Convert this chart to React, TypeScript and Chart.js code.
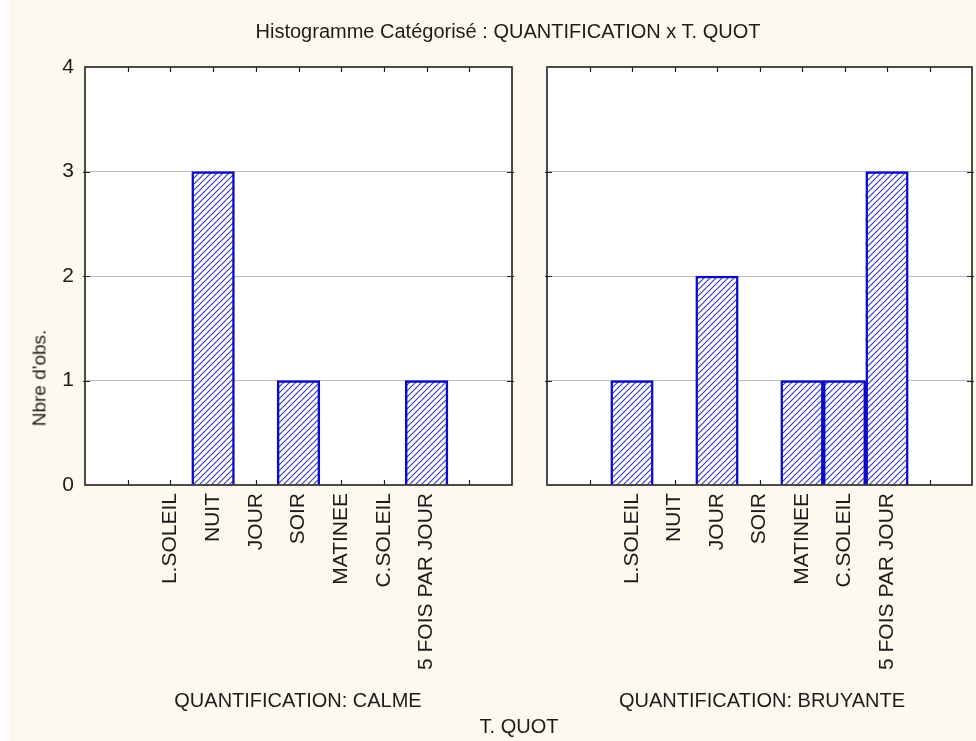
import React, { useEffect, useRef } from "react";
import { Chart, registerables } from "chart.js";

Chart.register(...registerables);

// ---- data ----
const categories = ["L.SOLEIL", "NUIT", "JOUR", "SOIR", "MATINEE", "C.SOLEIL", "5 FOIS PAR JOUR"];
const calmeValues = [0, 3, 0, 1, 0, 0, 1];
const bruyanteValues = [1, 0, 2, 0, 1, 1, 3];
const yTickValues = [0, 1, 2, 3, 4];
const mainTitle = "Histogramme Catégorisé : QUANTIFICATION x T. QUOT";
const yTitle = "Nbre d'obs.";
const xTitle = "T. QUOT";
const panelTitles = ["QUANTIFICATION: CALME", "QUANTIFICATION: BRUYANTE"];

const EMPTY_SLOTS = 2;
const FONT = '"Liberation Sans", Arial, Helvetica, sans-serif';
const TEXT = "#1c1c1c";

function paddedLabels(): string[] {
  const pad = Array(EMPTY_SLOTS).fill("");
  return [...pad, ...categories, ...pad];
}
function paddedValues(vals: number[]): (number | null)[] {
  const pad = Array(EMPTY_SLOTS).fill(null);
  return [...pad, ...vals.map((v) => (v === 0 ? null : v)), ...pad];
}

function makeHatch(): CanvasPattern | string {
  const s = 6;
  const c = document.createElement("canvas");
  c.width = s;
  c.height = s;
  const g = c.getContext("2d");
  if (!g) return "#ccf";
  g.fillStyle = "#ffffff";
  g.fillRect(0, 0, s, s);
  g.strokeStyle = "#3a3ac6";
  g.lineWidth = 1.2;
  g.beginPath();
  g.moveTo(-1, s + 1);
  g.lineTo(s + 1, -1);
  g.moveTo(-1, 1);
  g.lineTo(1, -1);
  g.moveTo(s - 1, s + 1);
  g.lineTo(s + 1, s - 1);
  g.stroke();
  return g.createPattern(c, "repeat") || "#ccf";
}

const framePlugin = {
  id: "panelFrame",
  beforeDraw(chart: any) {
    const { ctx, chartArea: a } = chart;
    ctx.save();
    ctx.fillStyle = "#ffffff";
    ctx.fillRect(a.left, a.top, a.right - a.left, a.bottom - a.top);
    ctx.restore();
  },
  beforeDatasetsDraw(chart: any) {
    const { ctx, chartArea: a, scales } = chart;
    const x = scales.x;
    const y = scales.y;
    ctx.save();
    ctx.strokeStyle = "#222222";
    ctx.lineWidth = 1.2;
    ctx.beginPath();
    for (let i = 1; i < x.ticks.length - 1; i++) {
      const px = Math.round(x.getPixelForTick(i)) + 0.5;
      ctx.moveTo(px, a.top);
      ctx.lineTo(px, a.top + 5);
      ctx.moveTo(px, a.bottom);
      ctx.lineTo(px, a.bottom - 5);
    }
    for (const v of yTickValues.slice(1, -1)) {
      const py = Math.round(y.getPixelForValue(v)) + 0.5;
      ctx.moveTo(a.left - 2, py);
      ctx.lineTo(a.left + 5, py);
      ctx.moveTo(a.right - 5, py);
      ctx.lineTo(a.right + 2, py);
    }
    ctx.stroke();
    ctx.restore();
  },
  afterDatasetsDraw(chart: any) {
    const { ctx, chartArea: a } = chart;
    ctx.save();
    ctx.strokeStyle = "#1e1e1e";
    ctx.lineWidth = 1.6;
    ctx.strokeRect(a.left, a.top, a.right - a.left, a.bottom - a.top);
    ctx.restore();
  },
};

type PanelProps = {
  values: number[];
  showY: boolean;
  left: number;
  width: number;
  yWidth: number;
  rightPad: number;
};

function Panel({ values, showY, left, width, yWidth, rightPad }: PanelProps) {
  const ref = useRef<HTMLCanvasElement | null>(null);
  useEffect(() => {
    if (!ref.current) return;
    const chart = new Chart(ref.current, {
      type: "bar",
      data: {
        labels: paddedLabels(),
        datasets: [
          {
            data: paddedValues(values),
            backgroundColor: makeHatch() as any,
            borderColor: "#0a0ac8",
            borderWidth: 2.5,
            barPercentage: 1,
            categoryPercentage: 1,
          },
        ],
      },
      options: {
        responsive: false,
        animation: false,
        devicePixelRatio: 1,
        layout: { padding: { left: 0, top: 67, right: rightPad, bottom: 0 } },
        plugins: { legend: { display: false }, tooltip: { enabled: false }, title: { display: false } },
        scales: {
          x: {
            type: "category",
            offset: false,
            grid: { display: false, drawTicks: false },
            border: { display: false },
            ticks: {
              autoSkip: false,
              maxRotation: 90,
              minRotation: 90,
              padding: 8,
              color: TEXT,
              font: { family: FONT, size: 21 },
            },
            afterFit: (s: any) => {
              s.height = 256;
              s.paddingLeft = 0;
              s.paddingRight = 0;
            },
          },
          y: {
            min: 0,
            max: 4,
            ticks: {
              display: showY,
              stepSize: 1,
              padding: 11,
              color: TEXT,
              font: { family: FONT, size: 21 },
            },
            grid: {
              drawTicks: false,
              color: (c: any) =>
                c.tick && (c.tick.value === 0 || c.tick.value === 4) ? "rgba(0,0,0,0)" : "#bdbdbd",
              lineWidth: 1,
            },
            border: { display: false },
            afterFit: (s: any) => {
              s.width = yWidth;
              s.paddingTop = 0;
              s.paddingBottom = 0;
            },
          },
        },
      },
      plugins: [framePlugin],
    });
    return () => chart.destroy();
  }, []);
  return (
    <canvas
      ref={ref}
      width={width}
      height={741}
      style={{ position: "absolute", left, top: 0, width, height: 741 }}
    />
  );
}

const textBase: React.CSSProperties = {
  position: "absolute",
  fontFamily: FONT,
  color: TEXT,
  whiteSpace: "nowrap",
  transform: "translate(-50%, -50%)",
  lineHeight: 1,
};

export default function App() {
  return (
    <div
      style={{
        position: "absolute",
        left: 0,
        top: 0,
        width: 976,
        height: 741,
        background: "#fdf9ef",
        overflow: "hidden",
      }}
    >
      <div style={{ position: "absolute", left: 0, top: 0, width: 9, height: 741, background: "#ffffff" }} />
      <Panel values={calmeValues} showY={true} left={0} width={520} yWidth={85} rightPad={8} />
      <Panel values={bruyanteValues} showY={false} left={520} width={456} yWidth={27} rightPad={4} />
      <div style={{ ...textBase, left: 508, top: 31, fontSize: 20 }}>{mainTitle}</div>
      <div
        style={{
          ...textBase,
          left: 39,
          top: 378,
          fontSize: 19,
          transform: "translate(-50%, -50%) rotate(-90deg)",
        }}
      >
        {yTitle}
      </div>
      <div style={{ ...textBase, left: 298, top: 700, fontSize: 20 }}>{panelTitles[0]}</div>
      <div style={{ ...textBase, left: 762, top: 700, fontSize: 20 }}>{panelTitles[1]}</div>
      <div style={{ ...textBase, left: 519, top: 726, fontSize: 20 }}>{xTitle}</div>
    </div>
  );
}
